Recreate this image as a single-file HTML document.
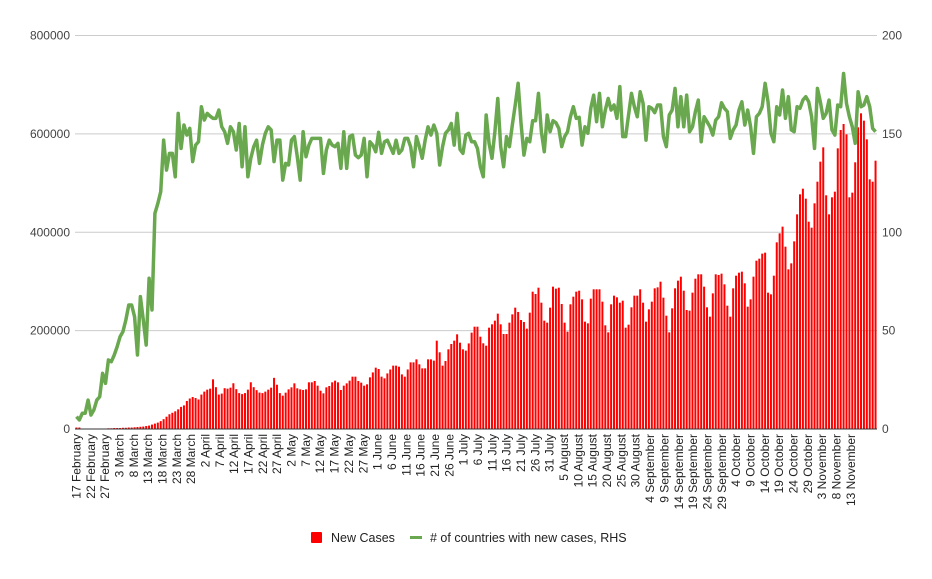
<!DOCTYPE html>
<html><head><meta charset="utf-8"><style>
body{margin:0;background:#fff;width:932px;height:574px;overflow:hidden;font-family:"Liberation Sans",Arial,sans-serif}
svg text{font-family:"Liberation Sans",Arial,sans-serif}
</style></head><body>
<svg id="chart" width="932" height="574" xmlns="http://www.w3.org/2000/svg">
<g id="grid"></g>
<g id="bars"></g>
<g id="line"></g>
<g id="axes"></g>
<g>
<rect x="311" y="532" width="11" height="11" rx="1" fill="#ff0000"/>
<text x="331" y="542" font-size="12.5" fill="#222">New Cases</text>
<rect x="410" y="536" width="12" height="3" fill="#6aa84f"/>
<text x="430" y="542" font-size="12.5" fill="#222"># of countries with new cases, RHS</text>
</g>
</svg>
<script>
// New cases per day, in thousands
const newCasesK = [3,3,0.5,0.5,0.5,0.5,0.5,0.5,0.5,0.5,0.5,1.5,1.5,2,2,2,2.5,2.5,3,3,3.5,4,4.5,
5,6,7,9,11,13,16,20,25,30,33,36,40,45,48,57,62,65,63,60,70,76,80,82,101,85,70,72,83,82,84,93,81,73,71,73,80,95,85,79,74,73,76,80,84,104,90,73,
67.8,73.9,80.6,84.7,92.8,82.7,80.6,79.3,80.6,94.9,94.9,97.6,88.1,77.9,72.5,84.7,87.4,94.9,98.3,94.9,79.3,88.1,92.8,98.3,106.4,106.4,97.6,94.2,88.1,90.8,105,115,124.7,122,106.4,103,113,121,128.8,128.8,126.7,111,106.4,121,135.5,135.5,141.6,131.5,123.3,123.3,141.6,141.6,139,179.6,155.9,128.8,138.3,162,172.8,179.6,192.5,175.5,162,159.3,174,
195.9,208,208,187.7,174.2,169.4,206,212.8,220.3,234.5,212.8,193.1,193.1,216.2,233.1,246.7,237.9,221.6,217.5,204,236.5,279.2,274.5,287.3,256.8,220.3,216.2,246.7,289.4,285.3,287.3,254.1,216.2,197.9,253.5,269,279.2,281.2,263.6,218.2,214.8,265,284,284,284,258.9,210.8,196.5,253.5,271.1,267.7,256.8,260.9,206,212.1,247.4,271.1,271.1,284,256.8,218.2,243.3,258.9,286,288,299.5,267,230.4,196.5,
245.3,286,301.6,309.7,281.2,241.9,240.6,277.2,305.6,314.5,314.5,289.4,247.4,228.4,275.8,314.5,313.1,315.8,294.1,250.7,228.4,286,311.7,317.8,319.9,296.2,248.7,263.6,309.7,342.2,346.3,356.5,358.5,277.2,273.8,311.7,379.5,397.8,411.4,370.7,324.6,336.8,381.5,436.4,477.1,488.6,468.3,421.5,409.3,458.8,502.8,543.5,572.6,475.1,436.4,471,482.5,570.6,607.9,620.1,599.1,471,480.5,542.2,613.3,641.8,626.9,588.9,507.6,502.8,545.5];
// Number of countries reporting new cases (right axis)
const countries = [6.3,4.6,8,8,14.7,7.1,9.7,14.7,16.4,28.3,23.2,35.1,34.2,37.6,41.8,46.9,49.5,55.4,63,63,57.1,37.6,67.3,55.4,42.7,76.6,60.5,109.6,114.6,120.6,146.8,131.6,140.1,140.1,128.2,160.4,142.6,154.5,149.4,152.8,135.9,144.3,146,163.8,157,160.4,159,157.9,157.9,162.1,153.6,151.1,145.2,153.6,151.1,141.8,155.3,133.3,153.6,128.2,137.6,143.5,146.8,135,144.3,150.3,153.6,152,135.9,146.8,
146.8,126.5,135,134.2,146.8,148.6,138.4,126.5,151.1,138.4,144.3,147.7,147.7,147.7,147.7,129.9,141.8,146.8,144.3,143.5,145.2,132.5,151.1,132.5,148.6,149.4,139.2,137.9,139.2,147.7,128.2,146,144.3,140.9,150.8,140.1,146,146.8,143.5,140.1,146.8,140.1,141.8,147.7,147.7,143.5,133.3,148.6,143.5,137.6,146.8,153.6,149.4,154.5,150.3,134.2,143.5,150.3,152,155.3,144.3,160.4,142.1,140.1,149.4,150.3,
146,146,142.6,133.3,128.2,159.6,145.2,137.6,151.1,168,143.5,133.3,148.6,143.5,154.5,164.7,175.7,155.3,139.2,147.7,146,156.7,156.7,170.6,151.1,140.9,159.6,151.1,156.7,155.7,152.8,143.5,148.6,151.1,158.7,163.8,157.9,158.4,144.3,153.6,150.3,163,169.7,156.2,170.6,153.6,162.1,168,162.1,164.7,157.9,174,148.6,148.6,159.6,170.6,163.8,158.7,171.4,165.5,146.8,163.8,163,160.8,164.7,164.7,148.6,143.5,159.6,162.1,173.1,153.6,168.9,
153.6,169.7,151.1,153.6,161.3,167.2,146,158.7,156.2,153.6,149.4,157,158.7,165.8,163,161.3,147.7,152,154.5,162.1,166.3,154.5,162.1,153.6,140.1,158.7,160.4,163.8,175.7,166.3,150.3,146,163.8,159.6,172.3,157.9,168.9,152,151.1,163.8,163,167.2,168.9,166.3,158.7,142.6,173.1,166.3,157.9,160.4,167.2,152,149.4,164.7,163.8,180.7,165.5,158.7,153.6,145.2,171.4,163.8,164.7,168.9,163.8,152.8,151.1,168,166.3];
const leftTicks = [0,200000,400000,600000,800000];
const rightTicks = [0,50,100,150,200];
const startDate = [2020,1,17]; // 17 February 2020
const labelCount = 55; // labels every 5 days: 17 February .. 13 November
const monthNames = ["January","February","March","April","May","June","July","August","September","October","November","December"];

const NS="http://www.w3.org/2000/svg";
const X0=75,X1=877,Y0=429,Y1=35.5;
const N=Math.min(newCasesK.length,countries.length);
const band=(X1-X0)/N;
function xAt(i){return X0+band*(i+0.5);}
function yL(v){return Y0-(v/800000)*(Y0-Y1);}
function yR(v){return Y0-(v/200)*(Y0-Y1);}
function mk(tag,attrs,parent){const e=document.createElementNS(NS,tag);for(const k in attrs)e.setAttribute(k,attrs[k]);parent.appendChild(e);return e;}
function dateLabel(i){const d=new Date(startDate[0],startDate[1],startDate[2]+i);return d.getDate()+" "+monthNames[d.getMonth()];}

const grid=document.getElementById('grid'),axes=document.getElementById('axes');
leftTicks.forEach((t,k)=>{
  const y=yL(t);
  if(t>0){const g=mk('line',{x1:X0,x2:X1,y1:y,y2:y,stroke:'#cccccc','stroke-width':1},grid);
  
  }
  const tx=mk('text',{x:70,y:y+4,'text-anchor':'end','font-size':12,fill:'#444'},axes);
  tx.textContent=String(t);
  
  
});
rightTicks.forEach(t=>{
  const tx=mk('text',{x:882,y:yR(t)+4,'font-size':12,fill:'#444'},axes);
  tx.textContent=String(t);
  
  
});
const bars=document.getElementById('bars');
for(let i=0;i<N;i++){
  const v=newCasesK[i]*1000;const y=yL(v);
  const r=mk('rect',{x:xAt(i)-1,y:y,width:2,height:Math.max(0,Y0-y),fill:'#ff0000'},bars);
  
  
}
const base=mk('line',{x1:X0,x2:X1,y1:Y0,y2:Y0,stroke:'#333','stroke-width':1},axes);


let d='';
for(let i=0;i<N;i++){d+=(i?'L':'M')+xAt(i).toFixed(2)+','+yR(countries[i]).toFixed(2);}
const p=mk('path',{d:d,fill:'none',stroke:'#6aa84f','stroke-width':3.5,'stroke-linejoin':'round'},document.getElementById('line'));


for(let k=0;k<labelCount;k++){
  const i=k*5;
  const x=xAt(i*(N-9.5)/270)+4;
  const tx=mk('text',{x:0,y:0,'text-anchor':'end','font-size':12,fill:'#222',transform:'translate('+x.toFixed(2)+',434) rotate(-90)'},axes);
  tx.textContent=dateLabel(i);
  
  
}
</script>
</body></html>
